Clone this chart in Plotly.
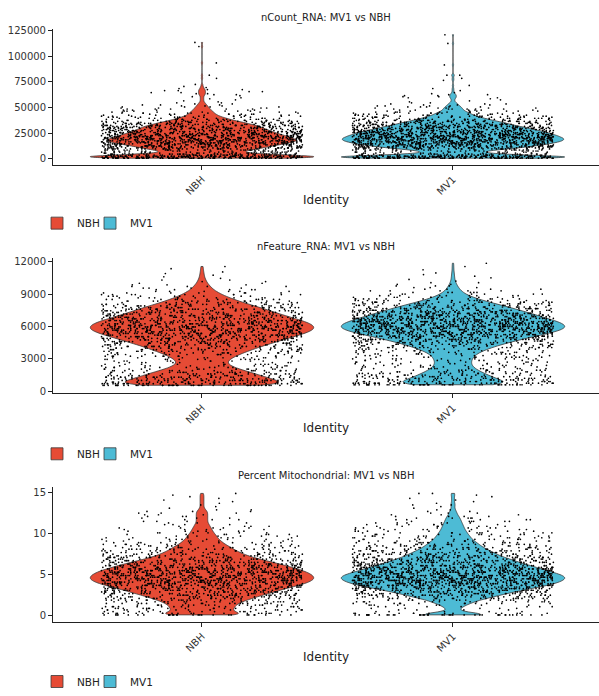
import numpy as np
import plotly.graph_objects as go

# ---------------- data (binned values) ----------------
groups = ["NBH", "MV1"]
colors = {"NBH": "#E64B35", "MV1": "#4DBBD5"}

# nCount_RNA : value bins and number of cells per bin
ncount_nbh_y = [500, 1500, 2500, 3500, 4500, 5500, 6500, 7500, 8500, 9500,
                10500, 11500, 12500, 13500, 14500, 15500, 16500, 17500, 18500, 19500,
                20500, 21500, 22500, 23500, 24500, 25500, 26500, 27500, 28500, 29500,
                30500, 31500, 32500, 33500, 34500, 35500, 36500, 37500, 38500, 39500,
                40500, 41500, 42500, 43500, 44500, 45500, 46500, 47500, 48500, 49500,
                50500, 51500, 52500, 53500, 54500, 55500, 56500, 57500, 58500, 59500,
                60500, 61500, 62500, 63500, 64500, 65500, 66500, 67500, 68500, 69500,
                70500, 72500, 78500, 81500, 93500, 109500, 113500]
ncount_nbh_n = [72, 75, 67, 52, 36, 26, 23, 24, 28, 32,
                35, 38, 41, 44, 48, 51, 54, 55, 55, 53,
                52, 50, 48, 46, 44, 42, 41, 39, 37, 36,
                35, 33, 31, 29, 26, 24, 21, 18, 16, 14,
                12, 10, 9, 8, 7, 7, 6, 5, 5, 4,
                4, 3, 3, 2, 2, 1, 1, 1, 1, 1,
                1, 1, 2, 2, 2, 2, 2, 2, 1, 1,
                1, 1, 1, 1, 1, 1, 1]
ncount_mv1_y = [500, 1500, 2500, 3500, 4500, 5500, 6500, 7500, 8500, 9500,
                10500, 11500, 12500, 13500, 14500, 15500, 16500, 17500, 18500, 19500,
                20500, 21500, 22500, 23500, 24500, 25500, 26500, 27500, 28500, 29500,
                30500, 31500, 32500, 33500, 34500, 35500, 36500, 37500, 38500, 39500,
                40500, 41500, 42500, 43500, 44500, 45500, 46500, 47500, 48500, 49500,
                50500, 51500, 52500, 53500, 54500, 55500, 56500, 57500, 58500, 59500,
                60500, 61500, 62500, 63500, 64500, 66500, 68500, 71500, 76500, 78500,
                81500, 91500, 112500, 121000]
ncount_mv1_n = [77, 80, 64, 42, 26, 18, 17, 19, 25, 31,
                38, 44, 48, 52, 56, 60, 62, 64, 65, 65,
                64, 62, 61, 59, 57, 55, 53, 50, 47, 45,
                42, 39, 36, 34, 31, 29, 26, 23, 21, 18,
                16, 14, 12, 11, 10, 8, 7, 6, 6, 5,
                5, 4, 3, 3, 2, 1, 1, 1, 1, 2,
                2, 2, 2, 1, 1, 1, 1, 1, 1, 1,
                2, 1, 1, 1]

# nFeature_RNA
nfeat_nbh_y = [550, 700, 850, 1000, 1150, 1300, 1450, 1600, 1750, 1900,
               2050, 2200, 2350, 2500, 2650, 2800, 2950, 3100, 3250, 3400,
               3550, 3700, 3850, 4000, 4150, 4300, 4450, 4600, 4750, 4900,
               5050, 5200, 5350, 5500, 5650, 5800, 5950, 6100, 6250, 6400,
               6550, 6700, 6850, 7000, 7150, 7300, 7450, 7600, 7750, 7900,
               8050, 8200, 8350, 8500, 8650, 8800, 8950, 9100, 9250, 9400,
               9550, 9700, 9850, 10000, 10150, 10300, 10450, 10600, 10750, 10900,
               11050, 11350, 11550]
nfeat_nbh_n = [50, 42, 35, 32, 30, 28, 26, 24, 21, 19,
               16, 14, 12, 11, 10, 11, 12, 13, 15, 16,
               18, 20, 22, 24, 26, 28, 31, 33, 35, 38,
               40, 43, 45, 47, 49, 50, 50, 49, 48, 46,
               44, 41, 39, 36, 34, 32, 30, 28, 25, 23,
               21, 18, 16, 14, 12, 10, 9, 7, 6, 5,
               4, 4, 3, 2, 2, 2, 1, 1, 1, 1,
               1, 1, 1]
nfeat_mv1_y = [600, 750, 900, 1050, 1200, 1350, 1500, 1650, 1800, 1950,
               2100, 2250, 2400, 2550, 2700, 2850, 3000, 3150, 3300, 3450,
               3600, 3750, 3900, 4050, 4200, 4350, 4500, 4650, 4800, 4950,
               5100, 5250, 5400, 5550, 5700, 5850, 6000, 6150, 6300, 6450,
               6600, 6750, 6900, 7050, 7200, 7350, 7500, 7650, 7800, 7950,
               8100, 8250, 8400, 8550, 8700, 8850, 9000, 9150, 9300, 9450,
               9600, 9750, 9900, 10050, 10200, 10350, 10500, 10650, 10800, 10950,
               11250, 11550, 11850]
nfeat_mv1_n = [50, 38, 31, 28, 26, 24, 21, 19, 17, 15,
               13, 12, 11, 11, 11, 11, 12, 12, 13, 14,
               16, 18, 21, 24, 27, 29, 34, 38, 42, 46,
               50, 55, 60, 64, 67, 70, 70, 69, 67, 64,
               61, 57, 54, 51, 48, 44, 41, 37, 34, 30,
               26, 22, 18, 15, 12, 9, 7, 6, 5, 4,
               3, 3, 2, 2, 1, 1, 1, 1, 1, 1,
               1, 1, 1]

# Percent mitochondrial
mito_y = [0.1, 0.3, 0.5, 0.7, 0.9, 1.1, 1.3, 1.5, 1.7, 1.9,
          2.1, 2.3, 2.5, 2.7, 2.9, 3.1, 3.3, 3.5, 3.7, 3.9,
          4.1, 4.3, 4.5, 4.7, 4.9, 5.1, 5.3, 5.5, 5.7, 5.9,
          6.1, 6.3, 6.5, 6.7, 6.9, 7.1, 7.3, 7.5, 7.7, 7.9,
          8.1, 8.3, 8.5, 8.7, 8.9, 9.1, 9.3, 9.5, 9.7, 9.9,
          10.1, 10.3, 10.5, 10.7, 10.9, 11.1, 11.3, 11.5, 11.7, 11.9,
          12.1, 12.3, 12.5, 12.7, 12.9, 13.1, 13.3, 13.5, 13.7, 13.9,
          14.1, 14.3, 14.5, 14.7, 14.9]
mito_nbh_n = [28, 20, 16, 16, 17, 17, 18, 19, 21, 24,
              26, 29, 32, 35, 38, 41, 44, 47, 51, 54,
              56, 58, 59, 59, 58, 57, 55, 53, 50, 47,
              44, 41, 37, 34, 30, 27, 24, 22, 20, 18,
              17, 15, 14, 12, 11, 10, 9, 8, 8, 7,
              6, 6, 5, 5, 4, 4, 3, 3, 3, 3,
              3, 3, 3, 3, 2, 1, 1, 1, 1, 1,
              1, 1, 1, 1, 1]
mito_mv1_n = [40, 14, 5, 4, 5, 7, 9, 12, 15, 18,
              23, 28, 32, 37, 42, 48, 53, 59, 65, 69,
              73, 75, 77, 77, 75, 72, 68, 64, 60, 57,
              53, 49, 45, 42, 39, 35, 32, 30, 28, 25,
              23, 21, 19, 18, 16, 15, 13, 12, 12, 10,
              10, 9, 8, 8, 7, 7, 6, 6, 5, 5,
              4, 3, 3, 2, 2, 1, 1, 2, 1, 1,
              1, 1, 1, 1, 2]

panel_titles = ["nCount_RNA: MV1 vs NBH", "nFeature_RNA: MV1 vs NBH",
                "Percent Mitochondrial: MV1 vs NBH"]
x_title = "Identity"
ncount_ticks = [0, 25000, 50000, 75000, 100000, 125000]
nfeat_ticks = [0, 3000, 6000, 9000, 12000]
mito_ticks = [0, 5, 10, 15]

# ---------------- figure ----------------
W, H = 599, 696


def expand(vals, counts):
    assert len(vals) == len(counts)
    return np.repeat(np.asarray(vals, dtype=float), np.asarray(counts, dtype=int))


panels = [
    dict(data={"NBH": (ncount_nbh_y, ncount_nbh_n), "MV1": (ncount_mv1_y, ncount_mv1_n)},
         ticks=ncount_ticks, rng=[-5770, 126920], bw=1150,
         dom=(25.0, 162.7), title_y=14.0, xtitle_y=199.0, legend_y=222.0),
    dict(data={"NBH": (nfeat_nbh_y, nfeat_nbh_n), "MV1": (nfeat_mv1_y, nfeat_mv1_n)},
         ticks=nfeat_ticks, rng=[-183, 12366], bw=270,
         dom=(257.0, 394.3), title_y=246.0, xtitle_y=430.0, legend_y=455.7),
    dict(data={"NBH": (mito_y, mito_nbh_n), "MV1": (mito_y, mito_mv1_n)},
         ticks=mito_ticks, rng=[-0.72, 15.72], bw=0.22,
         dom=(489.0, 625.7), title_y=477.3, xtitle_y=661.7, legend_y=686.7),
]

fig = go.Figure()
x_left = 53.0
font_family = "DejaVu Sans"
axis_col = "#222222"
legend_x = {"NBH": 37.0, "MV1": 90.0}   # left edge of each legend entry, px

n_leg = 1
layout_legends = {}
for i, p in enumerate(panels):
    k = "" if i == 0 else str(i + 1)
    for g in groups:
        n_leg += 1
        leg = "legend%d" % n_leg
        vals, cnts = p["data"][g]
        fig.add_trace(go.Violin(
            x0=g, y=expand(vals, cnts), name=g,
            xaxis="x" + k, yaxis="y" + k, legend=leg,
            fillcolor=colors[g], line=dict(color="#3a3a3a", width=0.8),
            points="all", jitter=0.9, pointpos=0,
            marker=dict(size=1.7, color="black", line=dict(width=0)),
            spanmode="hard", bandwidth=p["bw"], width=0.89, scalemode="width",
            box_visible=False, meanline_visible=False, hoverinfo="y",
        ))
        layout_legends[leg] = dict(
            orientation="h", x=legend_x[g] / W, y=1 - p["legend_y"] / H,
            xanchor="left", yanchor="middle", bgcolor="rgba(0,0,0,0)",
            font=dict(size=10.5, color="#222222", family=font_family),
            itemclick=False, itemdoubleclick=False,
        )
    d0, d1 = p["dom"]
    fig.layout["xaxis" + k] = dict(
        domain=[x_left / W, 1.0], anchor="y" + k, type="category",
        categoryorder="array", categoryarray=groups, range=[-0.5936, 1.5817],
        showline=True, linecolor=axis_col, linewidth=1, ticks="outside", ticklen=4,
        tickcolor=axis_col, tickangle=-45, showgrid=False, zeroline=False,
        tickfont=dict(size=10, color="#333333", family=font_family),
        fixedrange=True,
    )
    fig.layout["yaxis" + k] = dict(
        domain=[1 - d1 / H, 1 - d0 / H], anchor="x" + k, range=p["rng"],
        tickmode="array", tickvals=p["ticks"], ticktext=[str(t) for t in p["ticks"]],
        showline=True, linecolor=axis_col, linewidth=1, ticks="outside", ticklen=4,
        tickcolor=axis_col, showgrid=False, zeroline=False,
        tickfont=dict(size=10, color="#333333", family=font_family), fixedrange=True,
    )
    fig.add_annotation(text=panel_titles[i], xref="paper", yref="paper",
                       x=(x_left + W) / 2 / W, y=1 - p["title_y"] / H,
                       xanchor="center", yanchor="middle", showarrow=False,
                       font=dict(size=10, color="#222222", family=font_family))
    fig.add_annotation(text=x_title, xref="paper", yref="paper",
                       x=(x_left + W) / 2 / W, y=1 - p["xtitle_y"] / H,
                       xanchor="center", yanchor="middle", showarrow=False,
                       font=dict(size=12, color="#222222", family=font_family))

for name, spec in layout_legends.items():
    fig.layout[name] = spec

fig.update_layout(
    width=W, height=H, margin=dict(l=0, r=0, t=0, b=0), showlegend=True,
    paper_bgcolor="white", plot_bgcolor="white", violinmode="overlay",
    font=dict(family=font_family, color="#222222"),
)

fig.write_html("out.html")
